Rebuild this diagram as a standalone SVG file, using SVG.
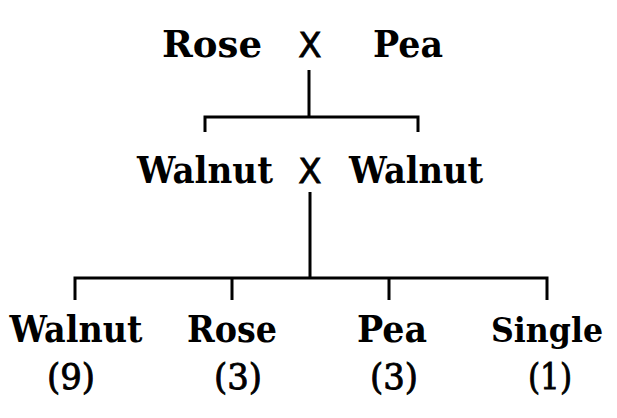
<svg xmlns="http://www.w3.org/2000/svg" width="617" height="418" viewBox="0 0 617 418">
<style>
.n{font-family:"DejaVu Serif","Liberation Serif",serif;font-weight:bold;font-size:37px;fill:#000;text-anchor:middle}
.x{font-family:"DejaVu Sans","Liberation Sans",sans-serif;font-size:34px;fill:#000;stroke:#000;stroke-width:0.8;text-anchor:middle}
.c{font-family:"DejaVu Serif","Liberation Serif",serif;font-size:36px;fill:#000;stroke:#000;stroke-width:0.9;text-anchor:middle}
.l{stroke:#000;stroke-width:3;fill:none}
</style>
<rect width="617" height="418" fill="#fff"/>
<g id="connectors">
<path class="l" d="M309 70V117M205 132V117H418V132"/>
<path class="l" d="M310 192V278M75 300V278H547V300M232 300V278M389 300V278"/>
</g>
<g id="parents1">
<text class="n" x="212" y="57" textLength="100" lengthAdjust="spacingAndGlyphs">Rose</text>
<text class="x" x="310" y="57">X</text>
<text class="n" x="408" y="57" textLength="70" lengthAdjust="spacingAndGlyphs">Pea</text>
</g>
<g id="parents2">
<text class="n" x="205" y="183" textLength="136" lengthAdjust="spacingAndGlyphs">Walnut</text>
<text class="x" x="310" y="183">X</text>
<text class="n" x="416" y="183" textLength="134" lengthAdjust="spacingAndGlyphs">Walnut</text>
</g>
<g id="walnut">
<text class="n" x="76" y="342" textLength="133" lengthAdjust="spacingAndGlyphs">Walnut</text>
<text class="c" x="71" y="389" textLength="48" lengthAdjust="spacingAndGlyphs">(9)</text>
</g>
<g id="rose">
<text class="n" x="232" y="342" textLength="90" lengthAdjust="spacingAndGlyphs">Rose</text>
<text class="c" x="238" y="389" textLength="48" lengthAdjust="spacingAndGlyphs">(3)</text>
</g>
<g id="pea">
<text class="n" x="392" y="342" textLength="70" lengthAdjust="spacingAndGlyphs">Pea</text>
<text class="c" x="394" y="389" textLength="48" lengthAdjust="spacingAndGlyphs">(3)</text>
</g>
<g id="single">
<text class="n" x="547" y="342" style="font-size:34px" textLength="112" lengthAdjust="spacingAndGlyphs">Single</text>
<text class="c" x="550" y="389" textLength="44" lengthAdjust="spacingAndGlyphs">(1)</text>
</g>
</svg>
